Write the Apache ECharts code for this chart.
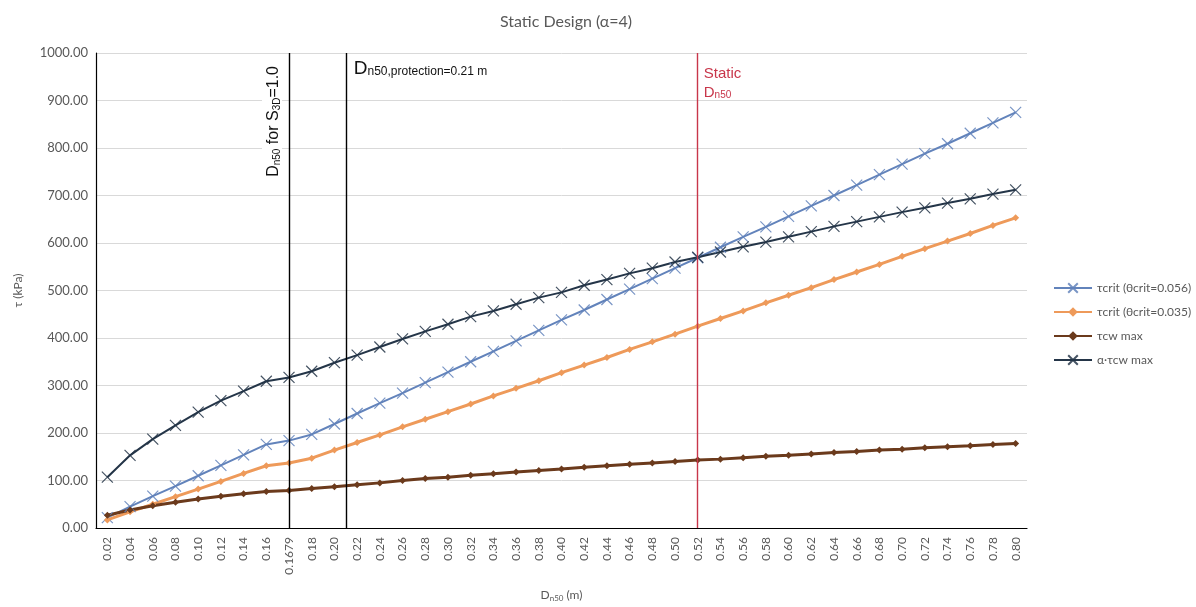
<!DOCTYPE html>
<html>
<head>
<meta charset="utf-8">
<script src="https://cdn.jsdelivr.net/npm/echarts@6/dist/echarts.min.js"></script>
<style>
  html, body { margin: 0; padding: 0; background: #fff; }
  #chart { width: 1196px; height: 607px; }
</style>
</head>
<body>
<div id="chart"></div>
<script>
// Nominal stone diameter D_n50 (m); 0.1679 is the S3D = 1.0 size inserted into the sequence
const categories = ['0.02','0.04','0.06','0.08','0.10','0.12','0.14','0.16','0.1679','0.18',
  '0.20','0.22','0.24','0.26','0.28','0.30','0.32','0.34','0.36','0.38',
  '0.40','0.42','0.44','0.46','0.48','0.50','0.52','0.54','0.56','0.58',
  '0.60','0.62','0.64','0.66','0.68','0.70','0.72','0.74','0.76','0.78','0.80'];

// Critical shear stress, theta_crit = 0.056 (kPa)
const tauCrit056 = [22,45,67,88,110,132,154,176,184,197,219,241,263,284,306,328,350,372,394,
  416,438,459,481,503,525,547,569,591,613,634,656,678,700,722,744,766,788,809,831,853,875];

// Critical shear stress, theta_crit = 0.035 (kPa)
const tauCrit035 = [17,34,50,66,82,98,115,131,137,147,164,180,196,213,229,245,261,278,294,
  310,327,343,359,376,392,408,425,441,457,474,490,506,523,539,555,572,588,604,620,637,653];

// Maximum combined wave-current bed shear stress (kPa)
const tauCwMax = [27,38,47,54,61,67,72,77,79,83,87,91,95,100,104,107,111,114,118,
  121,124,128,131,134,137,140,143,145,148,151,153,156,159,161,164,166,169,171,173,176,178];

// Amplified stress, alpha * tau_cw,max with alpha = 4 (kPa)
const alphaTauCwMax = [107,153,187,216,244,268,288,309,317,330,348,364,381,398,414,429,445,457,471,
  485,496,511,523,536,547,560,570,581,592,602,613,624,635,645,655,665,674,684,693,703,712];

// Y axis ticks
const yMin = 0, yMax = 1000, yStep = 100;

// Design diameters marked on the chart (m)
const dS3D = 0.1679;
const dProtection = 0.21;
const dStatic = 0.52;

const seriesNames = ['τcrit (θcrit=0.056)', 'τcrit (θcrit=0.035)', 'τcw max', 'α·τcw max'];

const FONT = 'Lato, "Noto Sans", sans-serif';
const ARIAL = '"Liberation Sans", Arial, sans-serif';
const GREY = '#595959';

const C_BLUE = '#6283bb';
const C_ORANGE = '#ee9a5a';
const C_BROWN = '#6b3a1c';
const C_NAVY = '#243548';
const C_RED = '#c8364a';

// Position of a diameter on the category sequence (fractional index)
const catValues = categories.map(Number);
function indexOf(v) {
  for (let i = 0; i < catValues.length - 1; i++) {
    if (v >= catValues[i] && v <= catValues[i + 1]) {
      return i + (v - catValues[i]) / (catValues[i + 1] - catValues[i]);
    }
  }
  return v < catValues[0] ? 0 : catValues.length - 1;
}

const crossSymbol = 'path://M0,0L10,10M10,0L0,10';

function lineSeries(name, data, color, width, symbol, size) {
  const cross = symbol === crossSymbol;
  return {
    name: name,
    type: 'line',
    data: data,
    symbol: symbol,
    symbolSize: size,
    showSymbol: true,
    showAllSymbol: true,
    smooth: false,
    lineStyle: { color: color, width: width },
    itemStyle: cross
      ? { color: color, borderColor: color, borderWidth: 1.2, opacity: 0.85 }
      : { color: color, borderColor: color, borderWidth: 0 },
    emphasis: { disabled: true },
    z: 3
  };
}

const chart = echarts.init(document.getElementById('chart'), null, { renderer: 'canvas' });

const refLine = (v, color) => ({
  xAxis: indexOf(v),
  lineStyle: { color: color, width: 1.4, type: 'solid' }
});

const option = {
  animation: false,
  backgroundColor: '#ffffff',
  title: {
    text: 'Static Design (α=4)',
    left: 561,
    top: 9,
    textAlign: 'center',
    textStyle: { fontFamily: FONT, fontSize: 16, fontWeight: 'normal', color: GREY }
  },
  grid: { left: 96, right: 169, top: 53, bottom: 76, containLabel: false },
  legend: {
    orient: 'vertical',
    left: 1048,
    top: 277,
    itemWidth: 38,
    itemHeight: 12,
    itemGap: 12,
    data: seriesNames,
    textStyle: { fontFamily: FONT, fontSize: 12, color: GREY },
    selectedMode: false
  },
  xAxis: [
    {
      type: 'category',
      data: categories,
      boundaryGap: true,
      name: '{d|D}{s|n50} (m)',
      nameLocation: 'middle',
      nameGap: 60,
      nameTextStyle: {
        fontFamily: FONT, fontSize: 12, color: GREY,
        rich: {
          d: { fontFamily: FONT, fontSize: 12, color: GREY },
          s: { fontFamily: FONT, fontSize: 8, color: GREY, padding: [6, 0, 0, 0] }
        }
      },
      axisLine: { show: true, onZero: false, lineStyle: { color: '#000', width: 1.2 } },
      axisTick: { show: false },
      axisLabel: {
        interval: 0, rotate: 90, margin: 9,
        fontFamily: FONT, fontSize: 12, color: GREY
      },
      splitLine: { show: false }
    },
    {
      type: 'value',
      min: -0.5,
      max: categories.length - 0.5,
      show: false
    }
  ],
  yAxis: {
    type: 'value',
    min: yMin, max: yMax, interval: yStep,
    name: 'τ (kPa)',
    nameLocation: 'middle',
    nameGap: 72,
    nameTextStyle: { fontFamily: FONT, fontSize: 12, color: GREY },
    axisLine: { show: true, onZero: false, lineStyle: { color: '#000', width: 1.2 } },
    axisTick: { show: false },
    axisLabel: {
      fontFamily: FONT, fontSize: 13, color: GREY, margin: 8,
      formatter: v => v.toFixed(2)
    },
    splitLine: { show: true, lineStyle: { color: '#d9d9d9', width: 1 } }
  },
  series: [
    lineSeries(seriesNames[0], tauCrit056, C_BLUE, 2, crossSymbol, 11),
    lineSeries(seriesNames[1], tauCrit035, C_ORANGE, 3, 'diamond', 7),
    lineSeries(seriesNames[2], tauCwMax, C_BROWN, 3, 'diamond', 7),
    lineSeries(seriesNames[3], alphaTauCwMax, C_NAVY, 2, crossSymbol, 11),
    {
      name: 'design diameters',
      type: 'line',
      xAxisIndex: 1,
      data: [],
      silent: true,
      z: 4,
      markLine: {
        silent: true,
        symbol: ['none', 'none'],
        label: { show: false },
        animation: false,
        data: [
          refLine(dS3D, '#000'),
          refLine(dProtection, '#000'),
          refLine(dStatic, C_RED)
        ]
      }
    }
  ]
};

chart.setOption(option);

// Annotations beside the design-diameter lines
const topY = chart.convertToPixel({ yAxisIndex: 0 }, yMax);
const xS3D = chart.convertToPixel({ xAxisIndex: 1 }, indexOf(dS3D));
const xProt = chart.convertToPixel({ xAxisIndex: 1 }, indexOf(dProtection));
const xStat = chart.convertToPixel({ xAxisIndex: 1 }, indexOf(dStatic));

chart.setOption({
  graphic: [
    {
      type: 'text',
      x: xS3D - 17,
      y: topY + 11,
      rotation: Math.PI / 2,
      z: 10,
      style: {
        text: '{b|D}{s|n50}{b| for S}{s|3D}{b|=1.0}',
        align: 'right',
        verticalAlign: 'middle',
        backgroundColor: '#fff',
        padding: [0, 2, 0, 2],
        rich: {
          b: { fontFamily: ARIAL, fontSize: 16, fill: '#111', verticalAlign: 'bottom', lineHeight: 20 },
          s: { fontFamily: ARIAL, fontSize: 10, fill: '#111', verticalAlign: 'bottom', lineHeight: 17 }
        }
      }
    },
    {
      type: 'text',
      x: xProt + 8,
      y: topY + 3,
      z: 10,
      style: {
        text: '{b|D}{s|n50,protection=0.21 m}',
        align: 'left',
        verticalAlign: 'top',
        rich: {
          b: { fontFamily: ARIAL, fontSize: 19, fill: '#111', verticalAlign: 'bottom', lineHeight: 22 },
          s: { fontFamily: ARIAL, fontSize: 12, fill: '#111', verticalAlign: 'bottom', lineHeight: 18 }
        }
      }
    },
    {
      type: 'text',
      x: xStat + 6,
      y: topY + 9,
      z: 10,
      style: {
        text: '{b|Static}\n{b|D}{s|n50}',
        align: 'left',
        verticalAlign: 'top',
        rich: {
          b: { fontFamily: ARIAL, fontSize: 15, fill: C_RED, verticalAlign: 'bottom', lineHeight: 19 },
          s: { fontFamily: ARIAL, fontSize: 10, fill: C_RED, verticalAlign: 'bottom', lineHeight: 15 }
        }
      }
    }
  ]
});
</script>
</body>
</html>
